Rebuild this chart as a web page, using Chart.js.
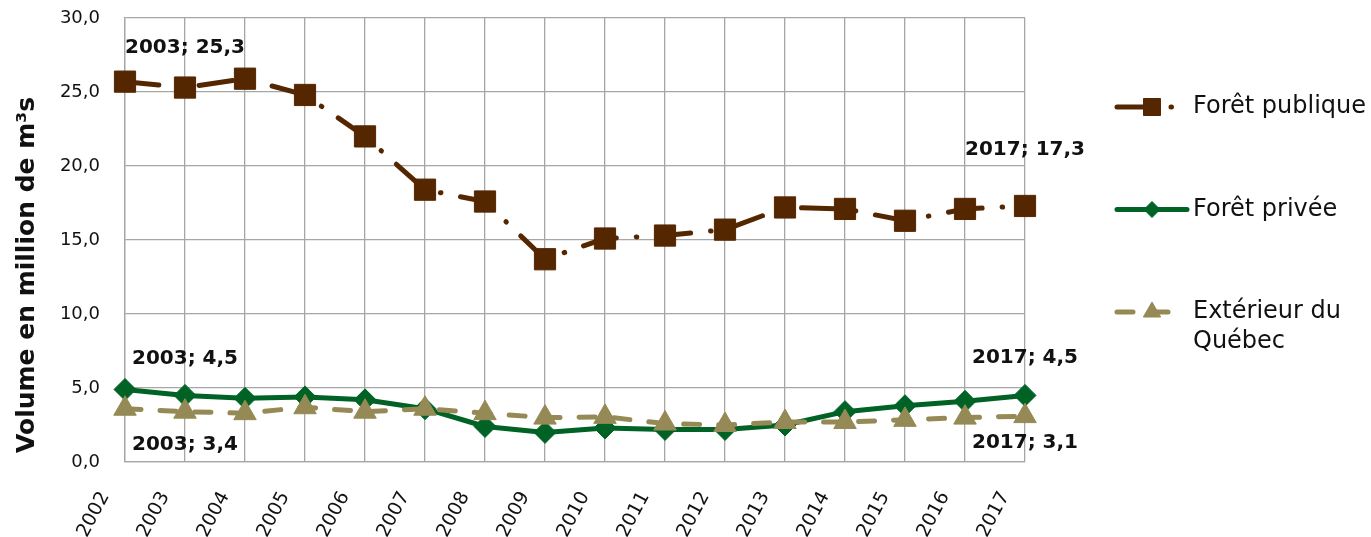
<!DOCTYPE html>
<html>
<head>
<meta charset="utf-8">
<script src="https://cdn.jsdelivr.net/npm/chart.js@4/dist/chart.umd.min.js"></script>
<style>
html,body{margin:0;padding:0;background:#fff;}
canvas{display:block;}
</style>
</head>
<body>
<canvas id="c" width="1371" height="537"></canvas>
<script>
const years = ['2002','2003','2004','2005','2006','2007','2008','2009','2010','2011','2012','2013','2014','2015','2016','2017'];
const foretPublique = [25.7, 25.3, 25.9, 24.8, 22.0, 18.4, 17.6, 13.7, 15.1, 15.3, 15.7, 17.2, 17.1, 16.3, 17.1, 17.3];
const foretPrivee = [4.9, 4.5, 4.3, 4.4, 4.2, 3.6, 2.4, 2.0, 2.3, 2.2, 2.2, 2.5, 3.4, 3.8, 4.1, 4.5];
const exterieur = [3.6, 3.4, 3.3, 3.7, 3.4, 3.6, 3.3, 3.0, 3.05, 2.6, 2.5, 2.7, 2.7, 2.85, 3.0, 3.1];
const seriesNames = ['Forêt publique', 'Forêt privée', 'Extérieur du Québec'];
const yTicks = [0, 5, 10, 15, 20, 25, 30];
const axisTitle = 'Volume en million de m³s';

const fmt = v => v.toFixed(1).replace('.', ',');

const BROWN = '#552700', GREEN = '#006325', OLIVE = '#958a55';
const FONT = "'DejaVu Sans'";

const dataLabelPlugin = {
  id: 'dataLabels',
  afterDatasetsDraw(chart, args, opts) {
    const ctx = chart.ctx;
    ctx.save();
    ctx.font = opts.font;
    ctx.fillStyle = opts.color;
    ctx.textAlign = 'center';
    ctx.textBaseline = 'middle';
    opts.items.forEach(it => {
      const meta = chart.getDatasetMeta(it.ds);
      const pt = meta.data[it.i];
      const v = chart.data.datasets[it.ds].data[it.i];
      const txt = chart.data.labels[it.i] + '; ' + fmt(v);
      ctx.fillText(txt, pt.x, pt.y + it.dy);
    });
    ctx.restore();
  }
};

const axisTitlePlugin = {
  id: 'yTitle',
  afterDraw(chart, args, o) {
    const ctx = chart.ctx;
    ctx.save();
    ctx.font = o.font;
    ctx.fillStyle = o.color;
    ctx.textAlign = 'center';
    ctx.textBaseline = 'middle';
    ctx.translate(o.x, chart.height * o.yFrac);
    ctx.rotate(-Math.PI / 2);
    ctx.fillText(o.text, 0, 0);
    ctx.restore();
  }
};

const legendPlugin = {
  id: 'sideLegend',
  afterDraw(chart, args, o) {
    const ctx = chart.ctx;
    ctx.save();
    ctx.font = o.font;
    ctx.textBaseline = 'middle';
    ctx.textAlign = 'left';
    chart.data.datasets.forEach((ds, k) => {
      const y = o.top + k * o.gap;
      ctx.save();
      ctx.strokeStyle = ds.borderColor;
      ctx.lineWidth = ds.borderWidth;
      ctx.lineCap = ds.borderCapStyle || 'butt';
      ctx.setLineDash(ds.borderDash || []);
      ctx.beginPath();
      ctx.moveTo(o.x, y);
      ctx.lineTo(o.x + o.lineLen, y);
      ctx.stroke();
      ctx.restore();
      ctx.save();
      ctx.fillStyle = ds.pointBackgroundColor;
      ctx.strokeStyle = ds.pointBorderColor;
      ctx.lineWidth = 1;
      Chart.helpers.drawPoint(ctx, {pointStyle: ds.pointStyle, radius: o.markerRadius[k], rotation: 0, borderWidth: 1}, o.x + o.lineLen / 2, y);
      ctx.restore();
      const words = ds.label.split(' ');
      const lines = [];
      let cur = '';
      words.forEach(w => {
        const t = cur ? cur + ' ' + w : w;
        if (ctx.measureText(t).width > o.maxWidth && cur) { lines.push(cur); cur = w; }
        else cur = t;
      });
      if (cur) lines.push(cur);
      ctx.fillStyle = o.color;
      lines.forEach((ln, j) => ctx.fillText(ln, o.textX, y + j * o.lineHeight));
    });
    ctx.restore();
  }
};

new Chart(document.getElementById('c'), {
  type: 'line',
  data: {
    labels: years,
    datasets: [
      {
        label: seriesNames[0], data: foretPublique, order: 3,
        borderColor: BROWN, borderWidth: 5, borderDash: [34, 20, 0.5, 20], borderCapStyle: 'round',
        pointStyle: 'rect', pointRadius: 15, pointBackgroundColor: BROWN, pointBorderColor: BROWN, pointBorderWidth: 1,
        tension: 0, fill: false
      },
      {
        label: seriesNames[1], data: foretPrivee, order: 2,
        borderColor: GREEN, borderWidth: 5, borderCapStyle: 'round', borderJoinStyle: 'round',
        pointStyle: 'rectRot', pointRadius: 11, pointBackgroundColor: GREEN, pointBorderColor: GREEN, pointBorderWidth: 1,
        tension: 0, fill: false
      },
      {
        label: seriesNames[2], data: exterieur, order: 1,
        borderColor: OLIVE, borderWidth: 5, borderDash: [16, 19], borderCapStyle: 'round',
        pointStyle: 'triangle', pointRadius: 13, pointBackgroundColor: OLIVE, pointBorderColor: OLIVE, pointBorderWidth: 1,
        tension: 0, fill: false
      }
    ]
  },
  options: {
    responsive: false,
    animation: false,
    layout: { padding: { top: 18, right: 346, bottom: 0, left: 0 } },
    plugins: {
      legend: { display: false },
      tooltip: { enabled: false },
      dataLabels: {
        font: "bold 20px " + FONT, color: '#111',
        items: [
          {ds: 0, i: 1, dy: -40}, {ds: 0, i: 15, dy: -56},
          {ds: 1, i: 1, dy: -37}, {ds: 1, i: 15, dy: -38},
          {ds: 2, i: 1, dy: 33}, {ds: 2, i: 15, dy: 27}
        ]
      },
      yTitle: {
        text: axisTitle, font: "bold 25px " + FONT, color: '#111', x: 27, yFrac: 0.512
      },
      sideLegend: {
        font: "24px " + FONT, color: '#111',
        x: 1117, lineLen: 70, textX: 1193, top: 107, gap: 102.5, lineHeight: 30, maxWidth: 178,
        markerRadius: [12, 8, 10]
      }
    },
    scales: {
      x: {
        offset: false,
        afterFit(s) { s.height = 75; s.paddingLeft = 0; s.paddingRight = 0; },
        grid: { color: '#a6a6a6', lineWidth: 1.3, drawTicks: false },
        border: { color: '#a6a6a6', width: 1.3 },
        ticks: {
          autoSkip: false, minRotation: 62, maxRotation: 62, padding: 26, labelOffset: -20,
          color: '#111', font: { family: FONT, size: 19 }
        }
      },
      y: {
        min: 0, max: 30,
        afterFit(s) { s.width = 125; s.paddingTop = 0; s.paddingBottom = 0; },
        afterBuildTicks(s) { s.ticks = yTicks.map(v => ({ value: v })); },
        grid: { color: '#a6a6a6', lineWidth: 1.3, drawTicks: false },
        border: { color: '#a6a6a6', width: 1.3 },
        ticks: {
          padding: 25, color: '#111', font: { family: FONT, size: 18 },
          callback: v => fmt(v)
        },
        title: { display: false }
      }
    }
  },
  plugins: [dataLabelPlugin, axisTitlePlugin, legendPlugin]
});
</script>
</body>
</html>
